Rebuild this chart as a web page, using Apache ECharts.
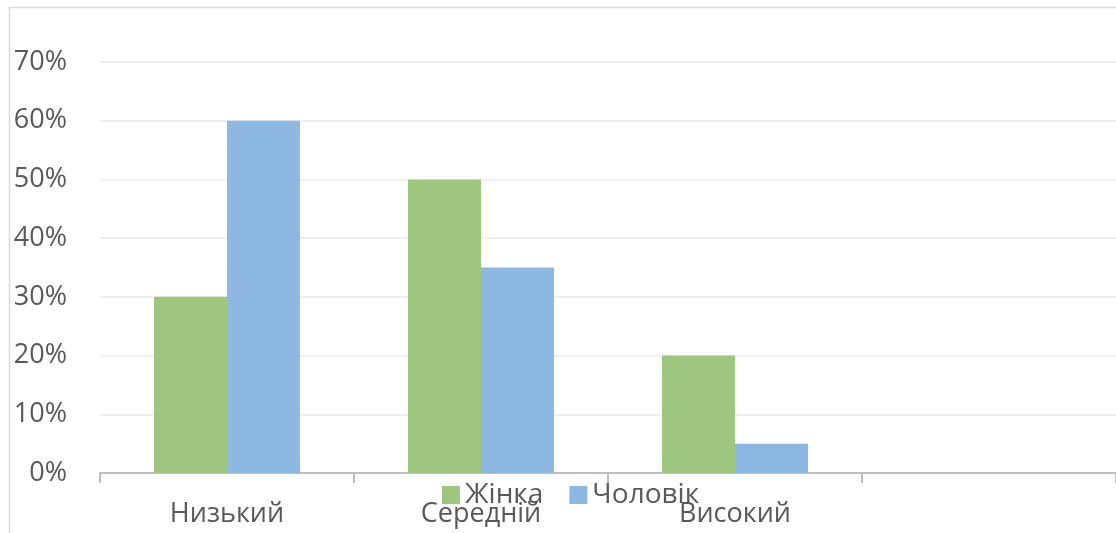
<!DOCTYPE html>
<html>
<head>
<meta charset="utf-8">
<script src="https://cdn.jsdelivr.net/npm/echarts@6/dist/echarts.min.js"></script>
<style>
html, body { margin: 0; padding: 0; background: #fff; }
#chart { width: 1116px; height: 533px; }
</style>
</head>
<body>
<div id="chart"></div>
<script>
// рівні (останній стовпчик порожній, як в оригіналі)
var levels = ['Низький', 'Середній', 'Високий', ''];
var seriesNames = ['Жінка', 'Чоловік'];
var women = [30, 50, 20, null];
var men = [60, 35, 5, null];
var yTicks = { min: 0, max: 70, step: 10 };

var chart = echarts.init(document.getElementById('chart'));
var textColor = '#595959';
var fontName = '"Open Sans", sans-serif';

var option = {
	animation: false,
	graphic: [
		{
			type: 'rect',
			shape: { x: 9.5, y: 7.5, width: 1200, height: 600 },
			style: { fill: 'none', stroke: '#d9d9d9', lineWidth: 1.5 },
			silent: true
		}
	],
	grid: { left: 100, right: 0, top: 62, bottom: 60 },
	legend: {
		data: seriesNames,
		left: 437,
		top: 476,
		itemWidth: 18,
		itemHeight: 18,
		itemGap: 26,
		icon: 'rect',
		textStyle: { color: textColor, fontSize: 28, fontFamily: fontName }
	},
	xAxis: {
		type: 'category',
		data: levels,
		axisLine: { lineStyle: { color: '#bfbfbf', width: 2 } },
		axisTick: { show: true, length: 10, lineStyle: { color: '#bfbfbf', width: 2 } },
		axisLabel: { color: textColor, fontSize: 27, fontFamily: fontName, margin: 28 }
	},
	yAxis: {
		type: 'value',
		min: yTicks.min,
		max: yTicks.max,
		interval: yTicks.step,
		axisLine: { show: false },
		axisTick: { show: false },
		splitLine: { lineStyle: { color: '#ebebeb', width: 1.5 } },
		axisLabel: {
			formatter: '{value}%',
			color: textColor,
			fontSize: 27,
			fontFamily: fontName,
			margin: 33
		}
	},
	series: [
		{
			name: seriesNames[0],
			type: 'bar',
			data: women,
			barWidth: 73,
			barGap: '0%',
			itemStyle: { color: '#9dc67f' }
		},
		{
			name: seriesNames[1],
			type: 'bar',
			data: men,
			barWidth: 73,
			barGap: '0%',
			itemStyle: { color: '#8db8e1' }
		}
	]
};
chart.setOption(option);
</script>
</body>
</html>
